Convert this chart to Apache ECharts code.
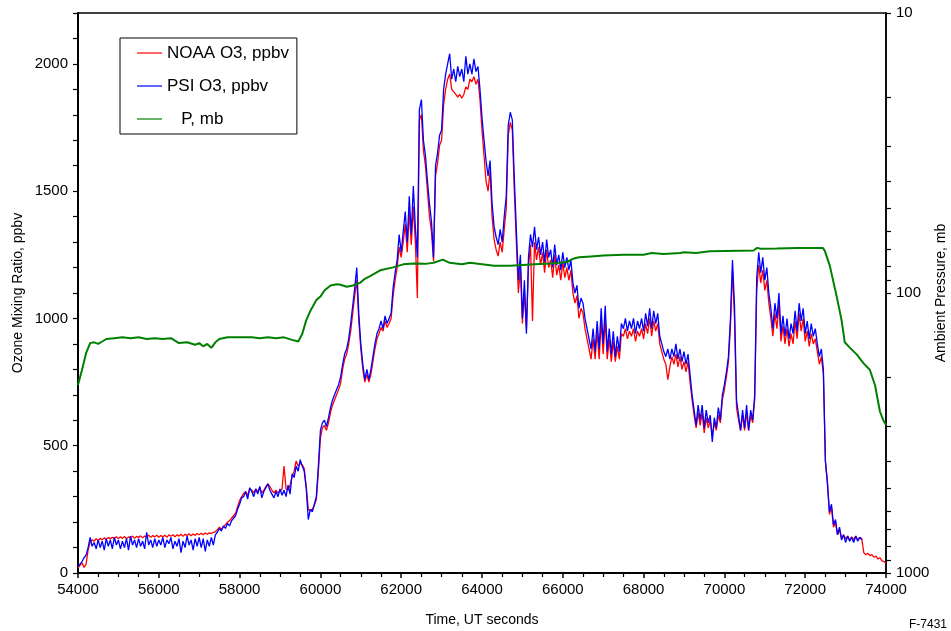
<!DOCTYPE html>
<html><head><meta charset="utf-8">
<script src="https://cdn.jsdelivr.net/npm/echarts@6/dist/echarts.min.js"></script>
<style>html,body{margin:0;padding:0;background:#fff}#c{width:951px;height:631px}</style>
</head><body><div id="c"></div><script>
// Time, UT seconds (sample times for ozone series)
const timeSec = [
54000,54050,54100,54150,54200,54250,54300,54350,54400,54450,54500,54550,54600,54650,54700,54750,54800,54850,54900,54950,
55000,55050,55100,55150,55200,55250,55300,55350,55400,55450,55500,55550,55600,55650,55700,55750,55800,55850,55900,55950,
56000,56050,56100,56150,56200,56250,56300,56350,56400,56450,56500,56550,56600,56650,56700,56750,56800,56850,56900,56950,
57000,57050,57100,57150,57200,57250,57300,57350,57400,57450,57500,57550,57600,57650,57700,57750,57800,57850,57900,57950,
58000,58050,58100,58150,58200,58250,58300,58350,58400,58450,58500,58550,58600,58650,58700,58750,58800,58850,58900,58950,
59000,59050,59100,59150,59200,59250,59300,59350,59400,59450,59500,59550,59600,59650,59700,59750,59800,59850,59900,59950,
60000,60050,60100,60150,60200,60250,60300,60350,60400,60450,60500,60550,60600,60650,60700,60750,60800,60850,60900,60950,
61000,61050,61100,61150,61200,61250,61300,61350,61400,61450,61500,61550,61600,61650,61700,61750,61800,61850,61900,61950,
62000,62050,62100,62150,62200,62250,62300,62350,62400,62450,62500,62550,62600,62650,62700,62750,62800,62850,62900,62950,
63000,63050,63100,63150,63200,63250,63300,63350,63400,63450,63500,63550,63600,63650,63700,63750,63800,63850,63900,63950,
64000,64050,64100,64150,64200,64250,64300,64350,64400,64450,64500,64550,64600,64650,64700,64750,64800,64850,64900,64950,
65000,65050,65100,65150,65200,65250,65300,65350,65400,65450,65500,65550,65600,65650,65700,65750,65800,65850,65900,65950,
66000,66050,66100,66150,66200,66250,66300,66350,66400,66450,66500,66550,66600,66650,66700,66750,66800,66850,66900,66950,
67000,67050,67100,67150,67200,67250,67300,67350,67400,67450,67500,67550,67600,67650,67700,67750,67800,67850,67900,67950,
68000,68050,68100,68150,68200,68250,68300,68350,68400,68450,68500,68550,68600,68650,68700,68750,68800,68850,68900,68950,
69000,69050,69100,69150,69200,69250,69300,69350,69400,69450,69500,69550,69600,69650,69700,69750,69800,69850,69900,69950,
70000,70050,70100,70150,70200,70250,70300,70350,70400,70450,70500,70550,70600,70650,70700,70750,70800,70850,70900,70950,
71000,71050,71100,71150,71200,71250,71300,71350,71400,71450,71500,71550,71600,71650,71700,71750,71800,71850,71900,71950,
72000,72050,72100,72150,72200,72250,72300,72350,72400,72450,72500,72550,72600,72650,72700,72750,72800,72850,72900,72950,
73000,73050,73100,73150,73200,73250,73300,73350,73400,73450,73500,73550,73600,73650,73700,73750,73800,73850,73900,73950,
74000];

// NOAA O3, ppbv
const noaaO3 = [
20,30,40,22,35,90,120,130,125,135,128,136,130,138,132,140,134,140,136,142,
135,142,136,144,134,142,138,145,136,144,140,146,138,145,142,148,140,147,142,148,
140,147,142,148,140,150,144,150,142,150,145,152,144,152,147,154,146,153,148,155,
150,156,150,157,152,158,155,160,162,170,180,172,182,190,200,205,215,225,235,260,
285,300,312,320,305,330,325,315,330,320,335,315,325,340,350,340,325,315,325,315,
320,330,420,330,325,345,380,400,440,420,430,425,410,340,250,245,250,265,290,400,
530,570,580,560,590,630,660,680,700,720,745,800,840,860,900,950,1020,1090,1150,990,
880,800,750,780,750,780,830,880,920,940,965,950,990,965,980,1000,1090,1150,1200,1280,
1240,1300,1370,1260,1420,1290,1440,1300,1080,1780,1800,1660,1600,1500,1400,1340,1225,1560,1610,1680,
1700,1840,1900,1940,1960,1900,1890,1880,1870,1880,1865,1880,1910,1900,1940,1930,1950,1920,1940,1860,
1740,1640,1540,1500,1580,1400,1310,1270,1245,1300,1260,1350,1430,1720,1770,1740,1500,1300,1100,1200,
980,1100,960,1200,1290,990,1300,1230,1280,1210,1260,1180,1270,1200,1230,1160,1250,1170,1210,1150,
1220,1160,1200,1150,1190,1100,1060,1090,1000,1040,1020,960,920,880,840,920,840,950,840,990,
860,1000,840,920,830,910,830,890,840,940,930,960,920,950,930,960,910,950,930,960,
920,980,940,1000,930,990,950,980,900,870,840,820,760,810,850,820,860,810,850,800,
830,790,830,750,680,620,570,630,580,630,550,610,570,600,540,590,560,620,590,680,
720,770,830,970,1190,1000,650,600,560,620,560,630,560,620,590,680,1110,1210,1140,1190,
1110,1150,1060,1000,930,1020,960,1060,910,970,900,960,890,940,900,990,920,1020,950,1000,
910,950,890,940,900,920,870,820,850,780,440,360,230,260,180,200,150,170,135,150,
135,145,130,142,132,145,130,140,135,80,72,78,68,72,62,66,55,60,48,45,
38];

// PSI O3, ppbv (record ends at 73400)
const psiO3 = [
25,35,45,60,70,100,140,105,120,95,130,100,125,90,135,105,130,95,140,110,
130,95,125,100,135,90,145,110,130,100,135,105,125,95,160,110,130,100,135,105,
130,110,140,100,130,115,140,95,125,105,135,80,125,100,145,110,130,90,135,105,
140,100,135,85,130,105,140,110,150,160,175,165,185,175,195,185,205,215,225,250,
270,295,300,320,290,335,320,300,330,310,340,295,320,335,350,325,310,295,320,300,
330,305,325,300,345,310,390,375,420,400,445,420,400,330,210,250,240,270,300,420,
560,590,600,575,610,650,680,700,720,740,770,820,860,880,920,980,1050,1120,1200,1020,
900,820,760,800,760,800,850,900,940,960,990,960,1010,980,1000,1020,1120,1180,1230,1330,
1260,1340,1420,1300,1480,1330,1520,1360,1240,1820,1860,1700,1640,1540,1450,1380,1240,1600,1650,1720,
1740,1900,1960,2000,2040,1940,1980,1930,1990,1950,1980,1930,2030,1960,2000,1960,2020,1970,1990,1900,
1790,1700,1620,1560,1620,1450,1360,1320,1290,1350,1300,1400,1480,1760,1810,1780,1550,1350,1150,1250,
1000,1150,940,1240,1330,1280,1360,1270,1320,1250,1300,1220,1310,1240,1270,1200,1290,1210,1250,1190,
1260,1200,1240,1190,1230,1140,1100,1130,1040,1080,1060,1000,960,920,880,960,870,990,880,1040,
900,1050,870,960,860,950,850,930,870,980,960,1000,950,990,960,1000,940,990,960,1000,
950,1020,970,1040,960,1030,980,1020,930,900,870,850,880,840,880,850,900,840,880,830,
870,820,860,780,700,640,580,660,600,660,570,640,590,620,515,610,570,650,600,700,
740,790,850,1000,1230,1050,680,620,560,640,570,660,560,640,600,700,1160,1260,1180,1240,
1150,1200,1100,1040,960,1060,1000,1100,940,1010,930,1000,920,980,940,1030,950,1060,990,1040,
940,990,920,980,930,960,900,850,880,800,440,350,240,270,190,210,150,180,130,150,
120,145,125,140,120,145,125,140,130];

// P, mb
const pressureTime = [54000,54100,54200,54300,54400,54500,54600,54700,54900,55100,55300,55500,55700,55900,56100,56300,56500,56700,56900,57000,57100,57200,57300,57400,57500,57700,57900,58100,58300,58500,58700,58900,59100,59300,59450,59550,59650,59750,59900,60000,60100,60250,60400,60500,60650,60800,60980,61100,61230,61480,61800,62050,62300,62600,62800,63030,63200,63500,63700,64000,64300,64700,65000,65300,65700,66100,66250,66400,66700,67000,67500,68000,68200,68500,68900,69000,69300,69640,70000,70400,70720,70810,70900,71300,71800,72200,72440,72490,72610,72780,72900,72980,73110,73280,73440,73600,73730,73850,73930,74000];
const pressureMb = [213,188,164,151,150,152,149,146,145,144,145,144,146,145,146,145,151,150,153,151,155,152,157,150,146,144,144,144,144,145,144,145,144,147,149,140,125,116,106,103,98,94,93,93.5,95,94,92,89,87,83,81,79,78.5,78.7,78,76,78,79,78,79,80,80,79.5,79,78.5,77.5,75.5,74.5,74,73.5,73,73,72,72.5,72,71.5,72,71,70.8,70.6,70.5,69,69.5,69.3,69,69,69,71,80,103,125,150,157,166,178,188,214,265,284,296];

const pressureTicks = [10,20,30,40,50,60,70,80,90,100,200,300,400,500,600,700,800,900,1000];
const pressureLabels = [10,100,1000];
const ozoneLabels = [0,500,1000,1500,2000];

const noaaData = noaaO3.map((v, i) => [timeSec[i], v]);
const psiData = psiO3.map((v, i) => [timeSec[i], v]);
const presData = pressureMb.map((v, i) => [pressureTime[i], v]);

const FONT = '"Liberation Sans", Arial, sans-serif';
const chart = echarts.init(document.getElementById('c'), null, {renderer: 'canvas'});
chart.setOption({
  animation: false,
  backgroundColor: '#fff',
  textStyle: {fontFamily: FONT, color: '#000'},
  title: {text: 'F-7431', right: 4, bottom: 0, padding: 0,
    textStyle: {fontFamily: FONT, fontSize: 12, fontWeight: 'normal', color: '#000'}},
  grid: {left: 78, right: 65, top: 13, bottom: 58, show: true, borderColor: '#000', borderWidth: 1.5,
    backgroundColor: 'transparent', outerBoundsMode: 'none', containLabel: false},
  legend: {
    orient: 'vertical', left: 120, top: 38,
    padding: [6, 8, 6, 17], itemGap: 15,
    borderColor: '#000', borderWidth: 1, backgroundColor: '#fff',
    icon: 'rect', itemWidth: 25, itemHeight: 1.2,
    textStyle: {fontFamily: FONT, fontSize: 17, color: '#000', lineHeight: 18},
    formatter: n => n === 'P, mb' ? '   P, mb' : n,
    data: ['NOAA O3, ppbv', 'PSI O3, ppbv', 'P, mb']
  },
  xAxis: {
    type: 'value', min: 54000, max: 74000, interval: 2000,
    axisLine: {lineStyle: {color: '#000', width: 2}},
    axisTick: {length: 5, lineStyle: {color: '#000', width: 1.5}},
    minorTick: {show: true, splitNumber: 4, length: 4, lineStyle: {color: '#000', width: 1.2}},
    splitLine: {show: false},
    axisLabel: {color: '#000', fontSize: 15, fontFamily: FONT, margin: 9, formatter: v => String(v)},
    name: 'Time, UT seconds', nameLocation: 'middle', nameGap: 40, nameMoveOverlap: false,
    nameTextStyle: {fontSize: 14, color: '#000', fontFamily: FONT}
  },
  yAxis: [{
    type: 'value', min: 0, max: 2200, interval: 100, position: 'left',
    axisLine: {show: true, lineStyle: {color: '#000', width: 2}},
    axisTick: {show: true, length: 5, lineStyle: {color: '#000', width: 1.2}},
    splitLine: {show: false},
    axisLabel: {color: '#000', fontSize: 15, fontFamily: FONT, margin: 10, interval: 0,
      formatter: v => ozoneLabels.indexOf(v) >= 0 ? String(v) : ''},
    name: 'Ozone Mixing Ratio, ppbv', nameLocation: 'middle', nameGap: 53, nameRotate: 90, nameMoveOverlap: false,
    nameTextStyle: {fontSize: 14, color: '#000', fontFamily: FONT}
  }, {
    type: 'log', logBase: 10, min: 10, max: 1000, inverse: true, position: 'right',
    axisLine: {show: true, lineStyle: {color: '#000', width: 1.5}},
    axisTick: {show: true, length: 5, customValues: pressureTicks, lineStyle: {color: '#000', width: 1.2}},
    minorTick: {show: false},
    splitLine: {show: false},
    axisLabel: {color: '#000', fontSize: 15, fontFamily: FONT, margin: 10, customValues: pressureLabels,
      formatter: v => String(Math.round(v))},
    name: 'Ambient Pressure, mb', nameLocation: 'middle', nameGap: 48, nameRotate: 90, nameMoveOverlap: false,
    nameTextStyle: {fontSize: 14, color: '#000', fontFamily: FONT}
  }],
  series: [
    {name: 'NOAA O3, ppbv', type: 'line', data: noaaData, yAxisIndex: 0, color: '#ff0000',
      showSymbol: false, symbol: 'none', lineStyle: {width: 1.3, color: '#ff0000'}},
    {name: 'PSI O3, ppbv', type: 'line', data: psiData, yAxisIndex: 0, color: '#0000ff',
      showSymbol: false, symbol: 'none', lineStyle: {width: 1.3, color: '#0000ff'}},
    {name: 'P, mb', type: 'line', data: presData, yAxisIndex: 1, color: '#008000',
      showSymbol: false, symbol: 'none', lineStyle: {width: 2, color: '#008000'}}
  ]
});
</script></body></html>
